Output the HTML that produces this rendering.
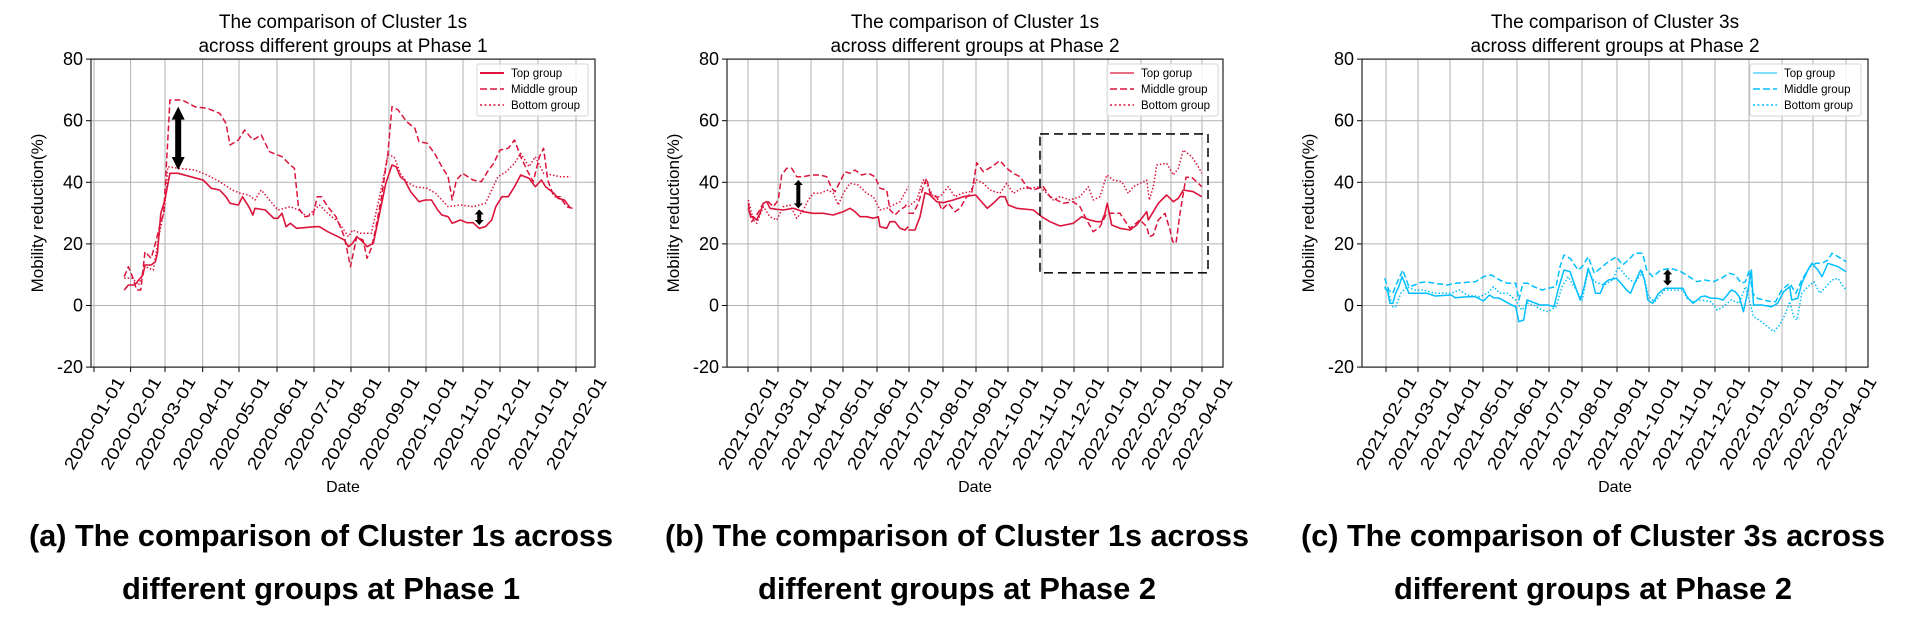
<!DOCTYPE html>
<html><head><meta charset="utf-8">
<style>
html,body{margin:0;padding:0;background:#fff;width:1912px;height:622px;overflow:hidden}
svg{display:block}
text{font-family:"Liberation Sans","Noto Sans CJK KR",sans-serif;fill:#000}
</style></head>
<body>
<svg id="s" width="1912" height="622" xmlns="http://www.w3.org/2000/svg"></svg>
<script>
const S=document.getElementById('s');
let out='';
const RED='#dc143c', BLUE='#00bfff';
function yv(v){return 305.5-3.08*v;}
function frame(L,R,ticks,labels,title2,title1){
  for(const v of [80,60,40,20,0,-20]){
    out+=`<line x1="${L}" x2="${R}" y1="${yv(v)}" y2="${yv(v)}" stroke="#b0b0b0" stroke-width="1"/>`;
    out+=`<line x1="${L-5}" x2="${L}" y1="${yv(v)}" y2="${yv(v)}" stroke="#000" stroke-width="1"/>`;
    out+=`<text x="${L-8}" y="${yv(v)+6}" font-size="18" text-anchor="end">${v}</text>`;
  }
  ticks.forEach((t,i)=>{
    out+=`<line x1="${t}" x2="${t}" y1="${yv(80)}" y2="${yv(-20)}" stroke="#b0b0b0" stroke-width="1"/>`;
    out+=`<line x1="${t}" x2="${t}" y1="${yv(-20)}" y2="${yv(-20)+5}" stroke="#000" stroke-width="1"/>`;
    out+=`<text transform="translate(${t},${yv(-20)+56}) rotate(-60)" y="6" font-size="17" text-anchor="middle" textLength="104" lengthAdjust="spacingAndGlyphs">${labels[i]}</text>`;
  });
  out+=`<rect x="${L}" y="${yv(80)}" width="${R-L}" height="${yv(-20)-yv(80)}" fill="none" stroke="#222" stroke-width="1.2"/>`;
  const c=(L+R)/2;
  out+=`<text x="${c}" y="28" font-size="19" text-anchor="middle">${title1}</text>`;
  out+=`<text x="${c}" y="52" font-size="19" text-anchor="middle">${title2}</text>`;
  out+=`<text transform="translate(${L-48},213) rotate(-90)" font-size="17" text-anchor="middle">Mobility reduction(%)</text>`;
  out+=`<text x="${c}" y="492" font-size="16" text-anchor="middle">Date</text>`;
}
function caption(cx,l1,l2){
  out+=`<text x="${cx}" y="546" font-size="31" font-weight="bold" text-anchor="middle" textLength="584" lengthAdjust="spacingAndGlyphs">${l1}</text>`;
  out+=`<text x="${cx}" y="599" font-size="31" font-weight="bold" text-anchor="middle" textLength="398" lengthAdjust="spacingAndGlyphs">${l2}</text>`;
}
function legend(x,col,topLabel,w){
  out+=`<rect x="${x}" y="64" width="111" height="52" rx="2" fill="#fff" fill-opacity="0.85" stroke="#d6d6d6"/>`;
  const st=['','7,3','2,2.5'], lb=[topLabel,'Middle group','Bottom group'];
  for(let i=0;i<3;i++){
    const y=73+16*i;
    out+=`<line x1="${x+3}" x2="${x+27}" y1="${y}" y2="${y}" stroke="${col}" stroke-width="${i==0?w:1.5}" ${st[i]?`stroke-dasharray="${st[i]}"`:''}/>`;
    out+=`<text x="${x+34}" y="${y+4}" font-size="11.5">${lb[i]}</text>`;
  }
}
function path(pts,fx,fy,col,dash,w){
  let d='';
  for(let i=0;i<pts.length;i+=2){d+=(i?'L':'M')+fx(pts[i]).toFixed(1)+','+fy(pts[i+1]).toFixed(1);}
  out+=`<path d="${d}" fill="none" stroke="${col}" stroke-width="${w||1.5}" stroke-linejoin="round" ${dash?`stroke-dasharray="${dash}"`:''}/>`;
}
function arrow(x,y1,y2,big){
  const hw=big?6.5:4.5, hh=big?13:5, sw=big?3:2;
  out+=`<polygon points="${x},${y1} ${x+hw},${y1+hh} ${x+sw},${y1+hh} ${x+sw},${y2-hh} ${x+hw},${y2-hh} ${x},${y2} ${x-hw},${y2-hh} ${x-sw},${y2-hh} ${x-sw},${y1+hh} ${x-hw},${y1+hh}" fill="#000"/>`;
}
// ---------- Chart A ----------
const ticksA=[94,130.6,165,202.7,239,277,314,351,389,426,463,500,538,576];
const labA=['2020-01-01','2020-02-01','2020-03-01','2020-04-01','2020-05-01','2020-06-01','2020-07-01','2020-08-01','2020-09-01','2020-10-01','2020-11-01','2020-12-01','2021-01-01','2021-02-01'];
frame(91,595,ticksA,labA,'across different groups at Phase 1','The comparison of Cluster 1s');
const ax=z=>91+(z-220)*0.4152, ay=z=>z/3;
path([300,830,310,800,320,830,330,870,340,870,350,755,365,775,375,730,385,680,395,640,405,420,410,300,440,300,470,320,500,325,530,340,545,370,555,435,575,420,590,390,610,420,630,405,650,455,680,470,700,495,710,505,720,625,735,650,755,645,765,590,775,590,790,620,810,650,830,710,845,800,860,710,875,720,885,775,895,745,905,690,920,590,935,460,945,320,960,330,980,365,1000,385,1010,425,1030,430,1050,465,1065,500,1080,530,1090,600,1100,540,1115,520,1140,540,1160,545,1175,515,1190,490,1205,450,1225,445,1240,420,1255,470,1270,510,1285,545,1300,470,1310,445,1320,540,1335,590,1350,590,1365,620,1380,625],ax,ay,RED,'6,3');
path([300,835,320,835,335,855,350,800,370,810,385,700,398,620,405,500,430,505,470,510,500,525,530,545,560,570,580,580,600,585,615,600,630,570,650,600,670,630,700,620,720,630,740,650,770,615,790,640,815,665,840,710,850,690,870,700,895,700,915,590,935,465,950,470,965,520,980,545,1000,560,1030,565,1050,580,1080,620,1110,615,1140,620,1170,610,1200,530,1220,515,1240,490,1255,460,1275,500,1290,470,1310,520,1330,525,1350,530,1375,530],ax,ay,RED,'1.5,2');
path([300,870,310,855,325,855,335,840,345,825,350,795,365,795,375,785,380,760,388,640,398,600,410,520,430,520,460,530,490,540,510,565,530,570,545,590,555,610,575,615,585,590,600,620,610,645,615,625,640,630,660,655,670,655,680,640,690,680,700,670,715,685,760,680,770,680,790,695,815,710,830,720,840,740,850,730,860,710,870,720,885,740,900,730,915,640,930,550,945,495,955,500,965,530,975,540,990,575,1010,605,1025,600,1040,600,1055,630,1065,645,1080,650,1090,670,1110,660,1125,668,1140,668,1155,685,1170,680,1185,660,1195,620,1210,590,1225,590,1240,560,1255,525,1275,535,1290,560,1305,540,1315,560,1325,570,1335,580,1345,595,1360,600,1375,625],ax,ay,RED,'',1.6);
arrow(ax(430),ay(320),ay(510),true);
arrow(ax(1155),ay(628),ay(675),false);
legend(477,RED,'Top group',2);
caption(321,'(a) The comparison of Cluster 1s across','different groups at Phase 1');
// ---------- Chart B ----------
const labB=['2021-02-01','2021-03-01','2021-04-01','2021-05-01','2021-06-01','2021-07-01','2021-08-01','2021-09-01','2021-10-01','2021-11-01','2021-12-01','2022-01-01','2022-02-01','2022-03-01','2022-04-01'];
frame(727,1223,[748,778,811,843,877,909,943,976,1008,1042,1074,1108,1141,1171,1202],labB,'across different groups at Phase 2','The comparison of Cluster 1s');
const b3x=z=>530+z/3, b3y=z=>z/3, b8x=z=>900+z/3, b8y=z=>40+z/3;
path([655,610,665,665,680,645,700,610,715,605,730,620,745,600,755,525,770,505,785,505,800,530,820,530,845,525,870,525,890,530,905,565,915,575,930,545,945,515,960,520,975,510,995,525,1015,520,1035,530,1050,565,1070,570,1080,630,1095,645,1110,630,1125,620,1135,605],b3x,b3y,RED,'6,3');
path([25,520,40,520,55,490,70,440,80,415,90,460,110,470,125,510,145,490,165,515,180,505,200,470,215,460,230,368,250,395,275,380,300,362,320,385,340,400,360,410,380,440,400,450,430,440,450,470,470,480,490,490,520,485,540,500,560,540,580,575,600,560,620,520,640,520,660,520,690,565,720,540,740,560,748,590,760,585,775,540,795,520,810,570,818,605,828,610,840,520,858,412,875,412,895,430,905,440],b8x,b8y,RED,'6,3');
path([655,600,670,660,680,670,700,620,720,650,740,660,760,620,780,615,800,655,820,630,835,600,850,580,870,580,895,570,910,580,925,615,940,580,960,550,985,555,1010,580,1030,590,1050,630,1070,625,1090,615,1110,605,1135,560],b3x,b3y,RED,'1.5,2');
path([25,500,50,480,70,420,85,440,100,470,120,470,145,440,165,470,185,460,210,455,230,420,250,430,270,450,300,460,320,430,340,460,365,445,390,445,420,440,440,460,460,480,480,470,510,480,540,470,565,440,580,480,600,470,620,405,640,420,665,425,685,460,700,440,720,430,740,420,748,480,760,440,770,375,800,370,820,405,835,385,850,330,875,350,895,380,905,400],b8x,b8y,RED,'1.5,2');
path([655,625,662,650,670,650,680,660,690,640,700,610,710,605,720,625,740,628,760,630,790,625,820,635,850,640,880,640,910,645,925,640,940,635,960,625,975,635,990,650,1010,650,1030,655,1045,650,1050,680,1070,685,1080,665,1095,665,1110,685,1125,690,1135,680],b3x,b3y,RED,'',1.6);
path([25,570,45,570,60,530,75,458,90,465,110,485,130,488,160,480,190,470,227,465,240,480,262,505,280,490,300,470,315,470,325,495,350,505,400,510,425,530,450,545,480,558,520,550,545,530,570,540,590,545,605,545,615,520,622,490,635,555,660,565,690,570,710,555,740,515,745,540,760,515,775,490,800,465,820,485,835,475,850,450,880,455,905,470],b8x,b8y,RED,'',1.6);
arrow(b3x(805),b3y(540),b3y(625),false);
out+=`<rect x="1040" y="${yv(55.7)}" width="168" height="${yv(10.6)-yv(55.7)}" fill="none" stroke="#111" stroke-width="1.6" stroke-dasharray="9,5"/>`;
legend(1107,RED,'Top gorup',1.2);
caption(957,'(b) The comparison of Cluster 1s across','different groups at Phase 2');
// ---------- Chart C ----------
frame(1362,1868,[1386,1418,1450,1483,1517,1549,1582,1617,1649,1682,1715,1749,1782,1813,1846],labB,'across different groups at Phase 2','The comparison of Cluster 3s');
const cx=z=>1290+z*0.403, cy=z=>z/3;
path([235,835,245,870,255,880,265,850,280,810,295,860,310,855,320,848,340,846,360,850,390,855,410,850,440,847,460,845,480,830,500,825,520,840,540,850,560,850,568,900,578,850,590,850,605,860,625,870,640,865,660,860,670,800,680,765,695,775,715,810,725,800,740,770,755,820,775,800,790,785,810,770,825,795,840,780,855,760,875,760,885,810,900,830,920,810,945,805,970,815,990,830,1010,845,1030,840,1050,845,1070,835,1090,820,1105,825,1120,850,1130,845,1140,810,1148,880,1160,895,1175,900,1195,905,1205,905,1220,870,1240,850,1255,880,1270,840,1290,800,1305,790,1320,790,1335,780,1345,760,1360,770,1380,785],cx,cy,BLUE,'6,3');
path([235,860,245,880,255,920,262,920,275,880,290,860,310,870,330,870,360,880,400,880,420,870,440,885,470,890,490,880,505,860,520,880,540,880,560,900,575,930,590,910,605,915,625,930,640,935,660,920,675,860,690,830,710,870,725,900,740,810,755,845,780,855,800,840,815,800,835,830,855,850,875,815,890,890,905,905,930,870,950,870,975,870,985,895,1000,905,1020,900,1045,905,1060,930,1075,920,1095,900,1115,910,1130,860,1140,900,1150,950,1170,965,1185,980,1200,995,1215,975,1230,940,1240,905,1250,950,1258,960,1270,880,1285,860,1300,845,1315,880,1330,860,1345,840,1360,835,1370,855,1380,870],cx,cy,BLUE,'1.5,2');
path([235,865,242,870,248,910,255,910,262,880,270,860,278,830,285,850,295,880,320,880,340,880,360,888,400,885,410,893,440,890,460,890,480,903,495,885,505,893,520,895,535,905,550,915,560,920,568,965,580,960,588,900,600,905,620,915,640,915,655,920,665,870,680,810,695,815,705,850,720,900,730,860,740,805,750,840,758,880,770,880,780,850,790,840,810,835,825,855,835,870,845,880,855,850,870,810,880,840,888,900,900,910,915,880,930,865,950,865,975,865,985,890,1000,910,1020,890,1030,888,1045,895,1060,895,1075,900,1095,870,1105,875,1115,890,1125,935,1135,880,1145,810,1150,915,1170,915,1195,920,1210,910,1225,875,1240,860,1245,900,1260,895,1270,850,1285,810,1295,790,1310,810,1320,830,1335,790,1360,800,1380,815],cx,cy,BLUE,'',1.5);
arrow(cx(937),cy(808),cy(857),false);
legend(1750,BLUE,'Top group',1);
caption(1593,'(c) The comparison of Cluster 3s across','different groups at Phase 2');
S.innerHTML=out;
</script>
</body></html>
